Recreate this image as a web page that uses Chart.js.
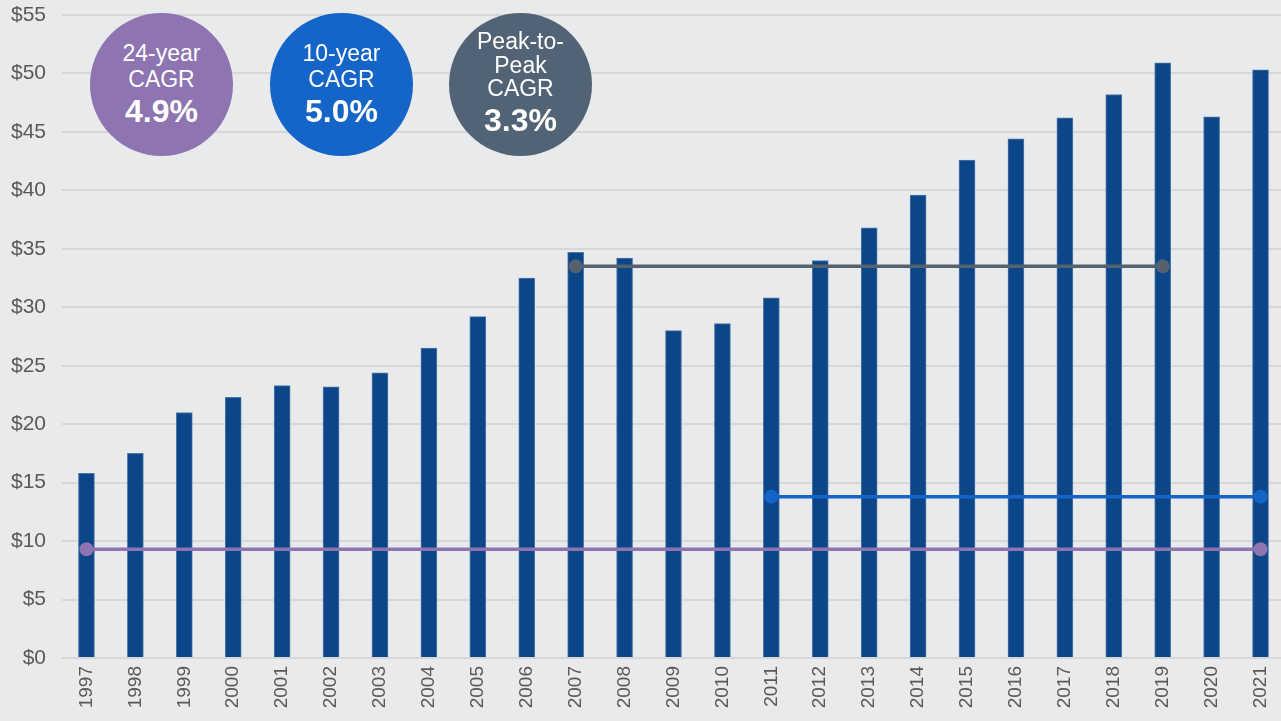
<!DOCTYPE html>
<html>
<head>
<meta charset="utf-8">
<script src="https://cdn.jsdelivr.net/npm/chart.js@4"></script>
<style>
  html, body { margin: 0; padding: 0; background: #e9eaec; overflow: hidden; }
  #wrap { position: relative; width: 1292px; height: 721px; }
  .bubble {
    position: absolute; top: 13px; width: 143px; height: 143px; border-radius: 50%;
    color: #fff; font-family: "Liberation Sans", Arial, sans-serif; text-align: center;
    display: flex; flex-direction: column; justify-content: center;
  }
  .bubble .t { font-size: 23px; line-height: 26px; }
  .bubble .v { font-size: 32px; line-height: 38px; font-weight: bold; }
  .bubble.tight .t { line-height: 23.5px; }
</style>
</head>
<body>
<div id="wrap">
  <canvas id="chart" width="1292" height="721"></canvas>
  <div class="bubble" style="left:90px;background:#8e74b0;">
    <div class="t">24-year</div><div class="t">CAGR</div><div class="v">4.9%</div>
  </div>
  <div class="bubble" style="left:270px;background:#1565c8;">
    <div class="t">10-year</div><div class="t">CAGR</div><div class="v">5.0%</div>
  </div>
  <div class="bubble tight" style="left:449px;background:#526375;">
    <div class="t">Peak-to-</div><div class="t">Peak</div><div class="t">CAGR</div><div class="v">3.3%</div>
  </div>
</div>
<script>
const years = ["1997","1998","1999","2000","2001","2002","2003","2004","2005","2006","2007","2008",
  "2009","2010","2011","2012","2013","2014","2015","2016","2017","2018","2019","2020","2021"];
const values = [15.8, 17.5, 21.0, 22.3, 23.3, 23.2, 24.4, 26.5, 29.2, 32.5, 34.7, 34.2,
  28.0, 28.6, 30.8, 34.0, 36.8, 39.6, 42.6, 44.4, 46.2, 48.2, 50.9, 46.3, 50.3];

// reference lines: [start year, end year, level]
const line24 = ["1997", "2021", 9.3];
const line10 = ["2011", "2021", 13.8];
const linePeak = ["2007", "2019", 33.5];

const yTicks = [0, 5, 10, 15, 20, 25, 30, 35, 40, 45, 50, 55];

function spanData(def) {
    const a = years.indexOf(def[0]), b = years.indexOf(def[1]);
    return years.map((y, i) => (i >= a && i <= b ? def[2] : null));
}

function refLine(def, color) {
    const a = years.indexOf(def[0]), b = years.indexOf(def[1]);
    return {
        type: "line",
        data: spanData(def),
        borderColor: color,
        backgroundColor: color,
        borderWidth: 3.5,
        pointRadius: ctx => (ctx.dataIndex === a || ctx.dataIndex === b ? 7 : 0),
        pointHoverRadius: 0,
        pointBorderWidth: 0,
        spanGaps: false,
        order: 1,
    };
}

const font = { family: '"Liberation Sans", Arial, sans-serif' };

new Chart(document.getElementById("chart").getContext("2d"), {
    type: "bar",
    data: {
        labels: years,
        datasets: [
            {
                data: values,
                backgroundColor: "#0b4689",
                borderColor: "#4f76a8",
                borderWidth: 1,
                barThickness: 16,
                order: 2,
            },
            refLine(line24, "#8e74b0"),
            refLine(line10, "#1565c8"),
            refLine(linePeak, "#55616e"),
        ],
    },
    options: {
        responsive: false,
        animation: false,
        layout: { padding: { top: 15, right: 0, left: 0, bottom: 0 } },
        plugins: { legend: { display: false }, tooltip: { enabled: false } },
        scales: {
            x: {
                grid: { display: false },
                border: { display: false },
                ticks: { color: "#595959", font: { ...font, size: 19 }, minRotation: 90, maxRotation: 90, padding: 0, autoSkip: false },
                afterFit: axis => { axis.height = 63; },
            },
            y: {
                min: 0, max: 55,
                afterBuildTicks: axis => { axis.ticks = yTicks.map(v => ({ value: v })); },
                grid: { color: "#d6d7d9", lineWidth: 2, drawTicks: false },
                border: { display: false },
                ticks: { color: "#595959", font: { ...font, size: 21 }, padding: 16, callback: v => "$" + v },
                afterFit: axis => { axis.width = 62; axis.paddingTop = 0; axis.paddingBottom = 0; },
            },
        },
    },
});
</script>
</body>
</html>
